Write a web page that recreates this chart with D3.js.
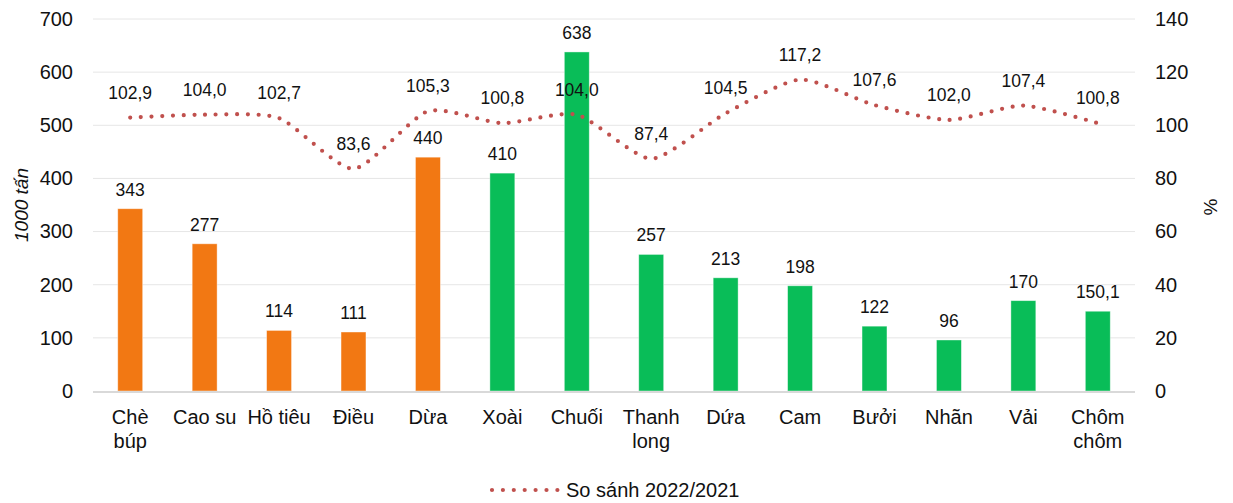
<!DOCTYPE html>
<html>
<head>
<meta charset="utf-8">
<script src="https://cdn.jsdelivr.net/npm/d3@7/dist/d3.min.js"></script>
<style>
  html, body { margin: 0; padding: 0; background: #fff; }
  svg { display: block; font-family: Arial, "Liberation Sans", sans-serif; }
</style>
</head>
<body>
<svg id="chart" width="1233" height="503"></svg>
<script>
// Products
const categories = [
  ["Chè", "búp"], ["Cao su"], ["Hồ tiêu"], ["Điều"], ["Dừa"], ["Xoài"], ["Chuối"],
  ["Thanh", "long"], ["Dứa"], ["Cam"], ["Bưởi"], ["Nhãn"], ["Vải"], ["Chôm", "chôm"]
];
// Output, thousand tonnes
const output = [343, 277, 114, 111, 440, 410, 638, 257, 213, 198, 122, 96, 170, 150.1];
// Industrial crops (first group) vs fruit
const groups = ["cn", "cn", "cn", "cn", "cn", "f", "f", "f", "f", "f", "f", "f", "f", "f"];
// 2022 vs 2021, percent
const ratio = [102.9, 104.0, 102.7, 83.6, 105.3, 100.8, 104.0, 87.4, 104.5, 117.2, 107.6, 102.0, 107.4, 100.8];
const leftTicks = [0, 100, 200, 300, 400, 500, 600, 700];
const rightTicks = [0, 20, 40, 60, 80, 100, 120, 140];

const colors = { cn: "#F27813", f: "#09BD58", line: "#C0504D" };
const svg = d3.select("#chart");
const m = { left: 93, right: 1135, top: 19, bottom: 391 };

const keys = categories.map((c, i) => i);
const x = d3.scaleBand().domain(keys).range([m.left, m.right]).paddingInner(0.665).paddingOuter(0.3325);
const yL = d3.scaleLinear().domain([0, 700]).range([m.bottom, m.top]);
const yR = d3.scaleLinear().domain([0, 140]).range([m.bottom, m.top]);
const fmt = v => (Number.isInteger(v) ? String(v) : v.toFixed(1)).replace(".", ",");
const fmt1 = v => v.toFixed(1).replace(".", ",");

// gridlines
svg.append("g").selectAll("line").data(leftTicks.filter(t => t > 0)).join("line")
  .attr("x1", m.left).attr("x2", m.right)
  .attr("y1", d => yL(d)).attr("y2", d => yL(d))
  .attr("stroke", "#e6e6e6").attr("stroke-width", 1);

// left axis
const axL = svg.append("g").attr("transform", `translate(${m.left},0)`)
  .call(d3.axisLeft(yL).tickValues(leftTicks).tickSize(0).tickPadding(20));
axL.select(".domain").remove();
axL.selectAll("text").attr("font-size", 20).attr("fill", "#111").attr("font-family", "Arial, 'Liberation Sans', sans-serif");

// right axis
const axR = svg.append("g").attr("transform", `translate(${m.right},0)`)
  .call(d3.axisRight(yR).tickValues(rightTicks).tickSize(0).tickPadding(20));
axR.select(".domain").remove();
axR.selectAll("text").attr("font-size", 20).attr("fill", "#111").attr("font-family", "Arial, 'Liberation Sans', sans-serif");

// bars
svg.append("g").selectAll("rect").data(output).join("rect")
  .attr("x", (d, i) => x(i)).attr("width", x.bandwidth())
  .attr("y", d => yL(d)).attr("height", d => yL(0) - yL(d))
  .attr("fill", (d, i) => colors[groups[i]])
  .attr("stroke", "#ffffff").attr("stroke-opacity", 0.5).attr("stroke-width", 0.8);

// baseline
svg.append("line").attr("x1", m.left).attr("x2", m.right)
  .attr("y1", yL(0) + 1).attr("y2", yL(0) + 1)
  .attr("stroke", "#d9d9d9").attr("stroke-width", 2);

// bar value labels
svg.append("g").selectAll("text").data(output).join("text")
  .attr("x", (d, i) => x(i) + x.bandwidth() / 2)
  .attr("y", d => yL(d) - 13)
  .attr("text-anchor", "middle").attr("font-size", 17.5).attr("fill", "#111")
  .text(d => fmt(d));

// comparison line
const cx = i => x(i) + x.bandwidth() / 2;
const line = d3.line().x((d, i) => cx(i)).y(d => yR(d)).curve(d3.curveCardinal.tension(0.35));
svg.append("path").datum(ratio).attr("d", line)
  .attr("fill", "none").attr("stroke", colors.line).attr("stroke-width", 4.2)
  .attr("stroke-linecap", "round").attr("stroke-dasharray", "0 10.7");

// line value labels
svg.append("g").selectAll("text").data(ratio).join("text")
  .attr("x", (d, i) => cx(i))
  .attr("y", d => yR(d) - 19)
  .attr("text-anchor", "middle").attr("font-size", 17.5).attr("fill", "#111")
  .text(d => fmt1(d));

// category labels
const cat = svg.append("g").selectAll("text").data(categories).join("text")
  .attr("x", (d, i) => cx(i)).attr("y", 424)
  .attr("text-anchor", "middle").attr("font-size", 20).attr("fill", "#111");
cat.selectAll("tspan").data(d => d).join("tspan")
  .attr("x", function () { return d3.select(this.parentNode).attr("x"); })
  .attr("dy", (d, j) => j === 0 ? 0 : 24)
  .text(d => d);

// axis titles
svg.append("text").attr("transform", "translate(28,205) rotate(-90)")
  .attr("text-anchor", "middle").attr("font-size", 19).attr("font-style", "italic").attr("fill", "#111")
  .text("1000 tấn");
svg.append("text").attr("transform", "translate(1217,207) rotate(-90)")
  .attr("text-anchor", "middle").attr("font-size", 19).attr("fill", "#111")
  .text("%");

// legend
const lg = svg.append("g");
lg.append("line").attr("x1", 492).attr("x2", 558).attr("y1", 490).attr("y2", 490)
  .attr("stroke", colors.line).attr("stroke-width", 4.2)
  .attr("stroke-linecap", "round").attr("stroke-dasharray", "0 10.9");
lg.append("text").attr("x", 566).attr("y", 497).attr("font-size", 20).attr("fill", "#111")
  .text("So sánh 2022/2021");
</script>
</body>
</html>
